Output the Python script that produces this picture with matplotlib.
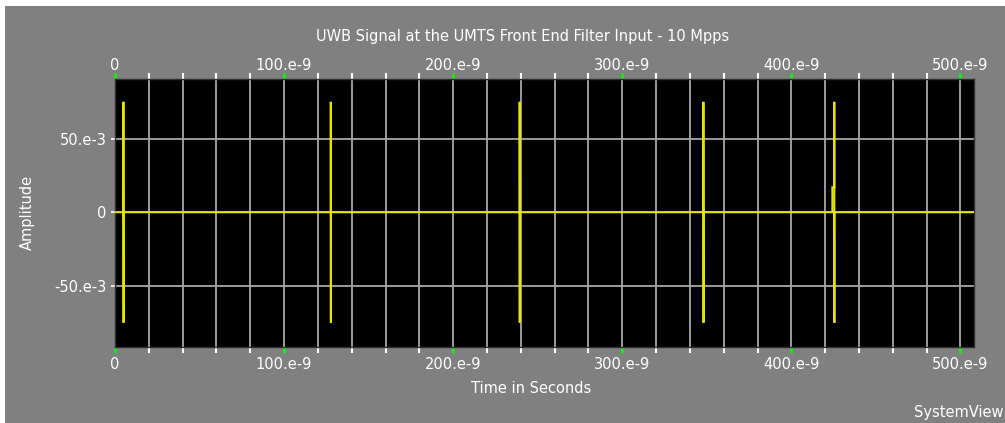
import numpy as np
import matplotlib.pyplot as plt
from matplotlib.patches import Rectangle
from matplotlib.ticker import MultipleLocator
from matplotlib.transforms import ScaledTranslation

# Pulse train read as (time, peak, trough) with a small pre-step on the last pulse
pulse_times = [5.0e-9, 127.6e-9, 239.3e-9, 348.0e-9, 425.4e-9]
pulse_peak = [75e-3, 75e-3, 75e-3, 75e-3, 75e-3]
pulse_trough = [-75e-3, -75e-3, -75e-3, -75e-3, -75e-3]
pre_step = [0.0, 0.0, 0.0, 0.0, 17e-3]
t_end = 508e-9

x_major = [0, 100e-9, 200e-9, 300e-9, 400e-9, 500e-9]
x_labels = ['0', '100.e-9', '200.e-9', '300.e-9', '400.e-9', '500.e-9']
y_major = [-50e-3, 0, 50e-3]
y_labels = ['-50.e-3', '0', '50.e-3']

# build the trace as a step-like polyline
t = [0.0]
a = [0.0]
for t0, hi, lo, pre in zip(pulse_times, pulse_peak, pulse_trough, pre_step):
    if pre != 0:
        t += [t0 - 1.2e-9, t0 - 1.2e-9, t0]
        a += [0.0, pre, pre]
    else:
        t += [t0]
        a += [0.0]
    t += [t0, t0 + 0.05e-9, t0 + 0.05e-9]
    a += [hi, lo, 0.0]
t.append(t_end)
a.append(0.0)

bg = '#808080'
fs = 10.5
fig = plt.figure(figsize=(10.05, 4.23), dpi=100, facecolor='white')
fig.patches.append(Rectangle((5 / 1005, 0), 1, (423 - 6) / 423, transform=fig.transFigure,
                             facecolor=bg, edgecolor='none', zorder=-10))

ax = fig.add_axes([115 / 1005, 1 - 347 / 423, (974 - 115) / 1005, (347 - 79) / 423])
ax.set_facecolor('black')
ax.plot(t, a, color='#e6e600', linewidth=1.4, solid_joinstyle='miter', zorder=3)

ax.set_xlim(0, t_end)
ax.set_ylim(-91.5e-3, 90.5e-3)

ax.set_xticks(x_major)
ax.set_xticklabels(x_labels)
ax.xaxis.set_minor_locator(MultipleLocator(20e-9))
ax.set_yticks(y_major)
ax.set_yticklabels(y_labels)

ax.grid(True, which='both', axis='x', color='#a8a8a8', linewidth=1.3, zorder=1)
ax.grid(True, which='major', axis='y', color='#a8a8a8', linewidth=1.3, zorder=1)

ax.tick_params(axis='x', which='major', top=True, bottom=True, labeltop=True, labelbottom=True,
               direction='out', length=4, width=2.2, color='#22e022', labelcolor='white',
               labelsize=fs, pad=3)
ax.tick_params(axis='x', which='minor', top=True, bottom=True, direction='out',
               length=4, width=1.5, color='white')
ax.tick_params(axis='y', which='major', direction='out', length=3, width=1.2,
               color='white', labelcolor='white', labelsize=fs, pad=3)

# top labels sit a little closer to the frame than the bottom ones
shift_down = ScaledTranslation(0, -4 / 100, fig.dpi_scale_trans)
for tick in ax.xaxis.get_major_ticks():
    tick.label2.set_transform(tick.label2.get_transform() + shift_down)

for s in ax.spines.values():
    s.set_color('#303030')
    s.set_linewidth(1)

fig.text(523 / 1005, 1 - 37 / 423, 'UWB Signal at the UMTS Front End Filter Input - 10 Mpps',
         color='white', fontsize=fs, ha='center', va='center')
fig.text(531 / 1005, 1 - 388 / 423, 'Time in Seconds', color='white', fontsize=fs,
         ha='center', va='center')
fig.text(27 / 1005, 1 - 212 / 423, 'Amplitude', color='white', fontsize=fs, rotation=90,
         ha='center', va='center')
fig.text(1003 / 1005, 1 - 412 / 423, 'SystemView', color='white', fontsize=fs,
         ha='right', va='center')

fig.savefig('out.png', dpi=100, facecolor=fig.get_facecolor())
